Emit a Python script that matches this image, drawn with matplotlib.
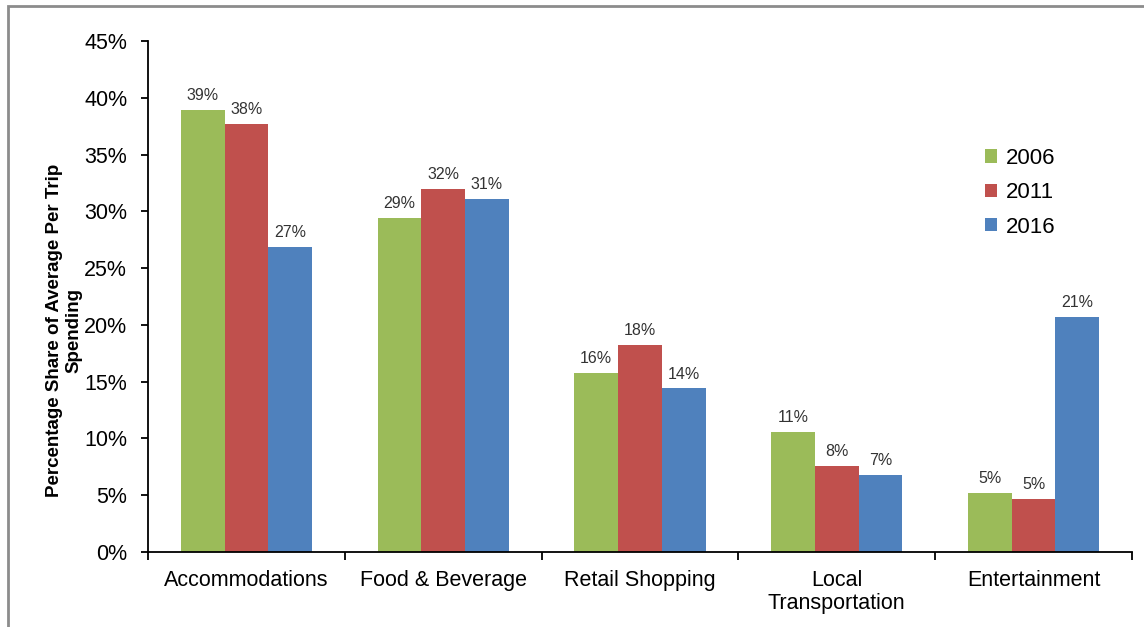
import numpy as np
import matplotlib
matplotlib.use('Agg')
import matplotlib.pyplot as plt
from matplotlib.patches import Rectangle

plt.rcParams['font.family'] = ['Liberation Sans', 'DejaVu Sans']

categories = ['Accommodations', 'Food & Beverage', 'Retail Shopping',
              'Local\nTransportation', 'Entertainment']
years = ['2006', '2011', '2016']
share_2006 = [38.9, 29.4, 15.8, 10.6, 5.2]
share_2011 = [37.7, 32.0, 18.2, 7.6, 4.7]
share_2016 = [26.9, 31.1, 14.4, 6.8, 20.7]
colors = ['#9BBB59', '#C0504D', '#4F81BD']

fig = plt.figure(figsize=(11.44, 6.27), dpi=100)
ax = fig.add_axes([148/1144, 1 - 552/627, (1132-148)/1144, (552-41)/627])

# outer chart border
fig.patches.append(Rectangle((8/1144, -0.05), 1.2, 1 - 6/627 + 0.05,
                             transform=fig.transFigure, fill=False,
                             edgecolor='#8c8c8c', linewidth=2))

x = np.arange(len(categories))
w = 1 / 4.5
for i, (vals, yr) in enumerate(zip([share_2006, share_2011, share_2016], years)):
    pos = x + (i - 1) * w
    ax.bar(pos, vals, width=w, color=colors[i], label=yr)
    for p, v in zip(pos, vals):
        ax.annotate('%d%%' % round(v), (p, v), xytext=(0, 5),
                    textcoords='offset points', ha='center', va='bottom',
                    fontsize=11.5, color='#333333')

ax.set_xlim(-0.5, len(categories) - 0.5)
ax.set_ylim(0, 45)
ax.set_yticks(np.arange(0, 46, 5))
ax.set_yticklabels(['%d%%' % t for t in range(0, 46, 5)], fontsize=15.5)
ax.set_xticks(x)
ax.set_xticklabels(categories, fontsize=15.5, linespacing=1.1)
ax.set_xticks(np.arange(-0.5, len(categories)), minor=True)
ax.tick_params(axis='x', which='major', length=0, pad=13)
ax.tick_params(axis='x', which='minor', length=6, width=1.3, direction='out')
ax.tick_params(axis='y', length=5, width=1.3, direction='out', pad=10)

for s in ['top', 'right']:
    ax.spines[s].set_visible(False)
for s in ['left', 'bottom']:
    ax.spines[s].set_linewidth(1.3)

ax.set_ylabel('Percentage Share of Average Per Trip\nSpending', fontsize=13.5,
              fontweight='bold', linespacing=1.15)
ax.yaxis.set_label_coords(-0.067, 0.434)

ax.legend(loc='upper left', bbox_to_anchor=(0.83, 0.83), frameon=False,
          fontsize=16, handlelength=0.55, handleheight=0.55, handletextpad=0.4,
          labelspacing=0.6)

fig.savefig('out.png', dpi=100)
